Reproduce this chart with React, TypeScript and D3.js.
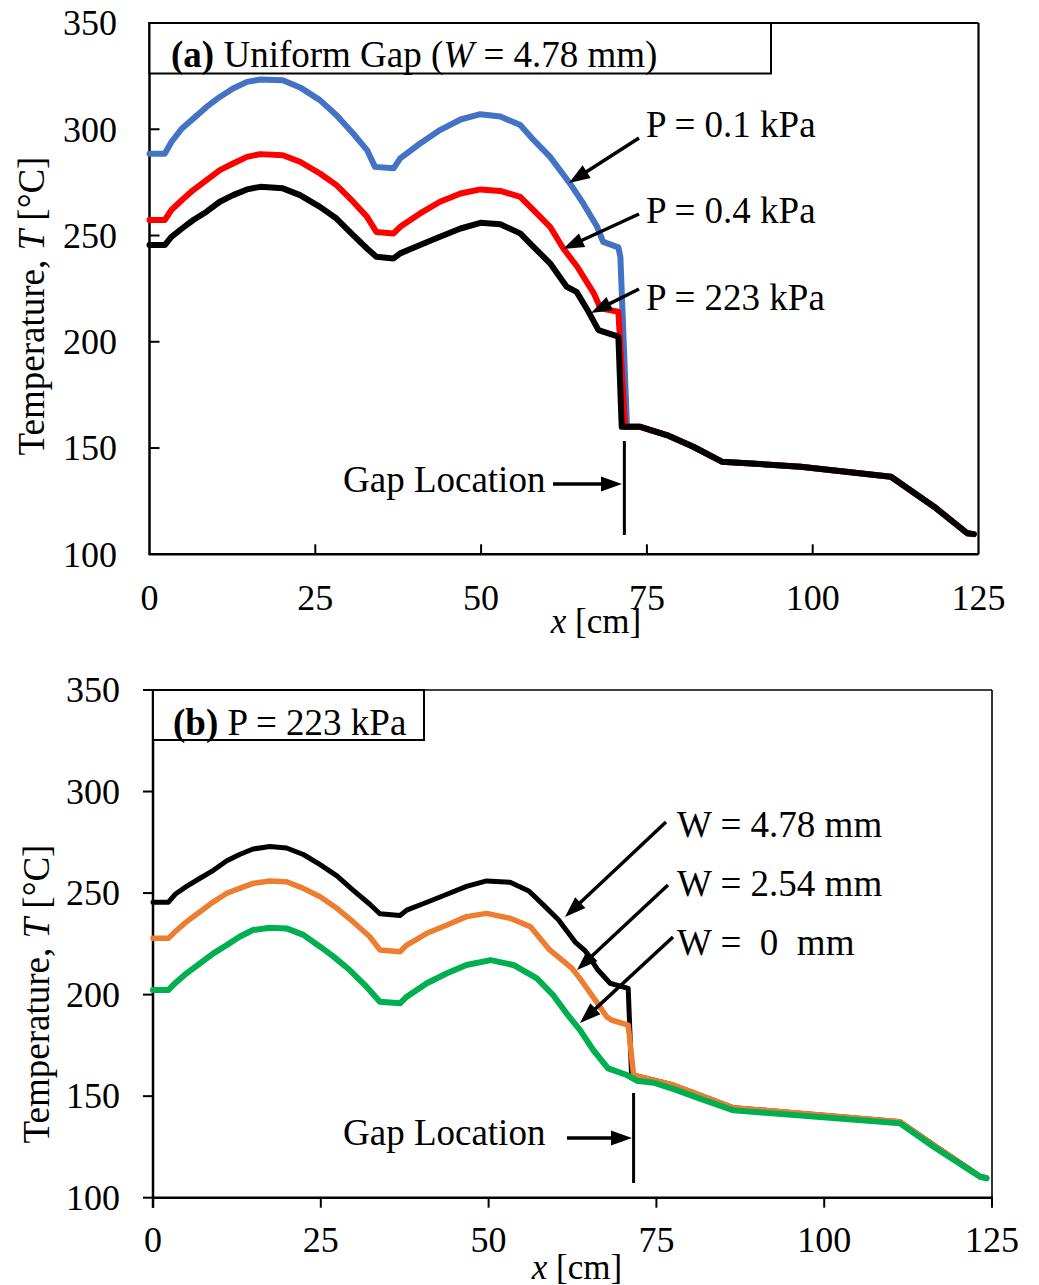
import React from "react";
import * as d3 from "d3";

// ---------- DATA (x in cm, T in °C) ----------
const xTicks = [0, 25, 50, 75, 100, 125];
const yTicks = [100, 150, 200, 250, 300, 350];

// Panel (a): uniform gap W = 4.78 mm, pressures
const blueP01: [number, number][] = [
  [0, 288.5], [2.3, 288.5], [3.3, 294], [4.9, 300.4], [6.6, 305], [8.6, 310.5], [10.6, 315.2],
  [12.6, 319.2], [14.7, 322.3], [16.7, 323.4], [20.1, 323.1], [22.7, 319.7], [25.7, 313.7],
  [28.2, 306.6], [30.7, 298], [32.8, 290.2], [34, 282.3], [36.8, 281.6], [37.8, 286.3],
  [40.8, 293.3], [43.8, 299.6], [46.9, 304.6], [49.9, 307.1], [52.9, 306], [55.9, 302],
  [57.9, 295], [60.4, 287], [63.4, 274.5], [65.4, 265.1], [67.5, 254.1], [68.4, 247],
  [70.7, 244.4], [71.0, 240], [72, 160], [74, 160], [78, 156.1], [82, 150.6], [86.3, 143.6],
  [98.2, 141.2], [111.8, 136.5], [118.3, 122.4], [123.3, 109.9], [124.3, 109.5],
];

const redP04: [number, number][] = [
  [0, 257.3], [2.3, 257.3], [3.3, 262], [4.9, 266.7], [6.6, 271.4], [8.6, 276.1], [10.6, 280.8],
  [12.6, 283.9], [14.7, 287], [16.7, 288.3], [20.1, 287.8], [22.7, 284.7], [25.7, 279.2],
  [28.2, 273.7], [30.7, 265.9], [32.8, 258.8], [34.2, 251.7], [36.8, 251], [37.8, 254.1],
  [40.8, 260.4], [43.8, 265.9], [46.9, 269.8], [49.9, 271.7], [52.9, 271], [55.9, 268.2],
  [57.9, 262], [60.4, 254.1], [62.4, 243.9], [64.5, 235.3], [67, 222.8], [68, 215.7],
  [70.7, 214.1], [71.7, 160], [74, 160], [78, 156.1], [82, 150.6], [86.3, 143.6],
  [98.2, 141.2], [111.8, 136.5], [118.3, 122.4], [123.3, 109.9], [124.3, 109.5],
];

const blackP223: [number, number][] = [
  [0, 245.5], [2.3, 245.5], [3.3, 249.4], [4.9, 253.3], [6.6, 257.3], [8.6, 261.2], [10.6, 265.9],
  [12.6, 269], [14.7, 271.7], [16.7, 272.9], [20.1, 272.2], [22.7, 269], [25.7, 263.5],
  [28.2, 258], [30.7, 250.2], [32.8, 243.9], [34.2, 240], [36.8, 239.2], [37.8, 241.6],
  [40.8, 245.5], [43.8, 249.4], [46.9, 253.3], [49.9, 256], [52.9, 255.3], [55.9, 251],
  [57.9, 244.7], [60.4, 236.9], [62.9, 225.9], [64.4, 223.5], [66.2, 214.1], [67.7, 205.5],
  [70.7, 202.4], [71.2, 160], [72, 160], [74, 160], [78, 156.1], [82, 150.6], [86.3, 143.6],
  [98.2, 141.2], [111.8, 136.5], [118.3, 122.4], [123.3, 109.9], [124.3, 109.5],
];

// Panel (b): P = 223 kPa, gap widths
const blackW478: [number, number][] = [
  [0, 245.5], [2.3, 245.5], [3.3, 249.4], [5, 253.3], [7, 257.3], [9, 261.2], [11, 265.9],
  [12.9, 269], [14.9, 271.7], [17.4, 272.9], [19.9, 272.2], [22.4, 269], [24.9, 264],
  [27.4, 258.5], [29.8, 251.5], [32.3, 244.5], [33.8, 239.8], [36.8, 239], [37.8, 241.6],
  [40.8, 245.5], [43.8, 249.4], [46.7, 253.3], [49.7, 256], [53.2, 255.3], [56, 251],
  [58, 244.7], [60.4, 236.9], [62.9, 225.9], [64.4, 221.5], [66.2, 212.5], [68.1, 205.6],
  [70.8, 203.1], [71.3, 160.4], [73, 159.2], [77.5, 155.5], [81.5, 150.5], [86.5, 144.3],
  [111.3, 137.4], [116.3, 126], [123.2, 110.6], [124.2, 109.8],
];

const orangeW254: [number, number][] = [
  [0, 227.7], [2.3, 227.7], [3.3, 231], [5, 235.9], [7, 240.8], [9, 245.7], [11, 249.9],
  [12.9, 252.3], [14.9, 254.8], [17.4, 255.9], [19.9, 255.6], [22.4, 252.3], [24.9, 248.2],
  [27.4, 242.5], [29.8, 235.9], [32.3, 228.5], [33.8, 222], [36.8, 221.1], [37.8, 224.4],
  [40.8, 230.2], [43.8, 234.3], [46.7, 238.4], [49.7, 240], [53.2, 237.6], [56.2, 233.5],
  [59.1, 222], [62.4, 213], [63.6, 208], [65.9, 197.3], [67.6, 189.1], [68.3, 187.5],
  [70.8, 185], [71.6, 160.4], [73, 159.2], [77.5, 155.5], [81.5, 150.5], [86.5, 144.3],
  [111.3, 137.4], [116.3, 126], [123.2, 110.6], [124.2, 109.8],
];

const greenW0: [number, number][] = [
  [0, 202.3], [2.3, 202.3], [3.3, 205.6], [5, 210.5], [7, 215.4], [9, 220.3], [11, 224.4],
  [12.9, 228.5], [14.9, 231.8], [17.4, 232.9], [19.9, 232.6], [22.4, 229.4], [24.9, 223.6],
  [26.9, 218.7], [29.3, 212.1], [31.8, 203.9], [33.8, 196.5], [36.8, 195.7], [37.8, 199],
  [40.8, 205.6], [43.8, 210.5], [46.7, 214.6], [50.3, 217], [53.7, 214.6], [57.2, 208],
  [59.6, 199.8], [61.6, 190.8], [63.6, 182.6], [65.6, 172.7], [67.8, 163.7], [70.6, 160.4],
  [72.1, 157.6], [74.6, 156.6], [77.5, 153.6], [81.5, 148.8], [86.5, 143], [111.3, 136.6],
  [116.3, 125.1], [123.2, 110.3], [124.2, 109.5],
];

const gapLocation = 71.6;

// ---------- STYLE / LAYOUT ----------
const FONT = "'Liberation Serif', 'Times New Roman', Times, serif";
const ANN = 37;

type Series = { data: [number, number][]; color: string; width: number };

type Arrow = { x1: number; y1: number; x2: number; y2: number };

function arrowHead(a: Arrow, len = 21, half = 7.5) {
  const dx = a.x2 - a.x1, dy = a.y2 - a.y1;
  const L = Math.hypot(dx, dy);
  const ux = dx / L, uy = dy / L;
  const bx = a.x2 - ux * len, by = a.y2 - uy * len;
  const px = -uy, py = ux;
  return `M${a.x2},${a.y2}L${bx + px * half},${by + py * half}L${bx - px * half},${by - py * half}Z`;
}

function ArrowMark({ a }: { a: Arrow }) {
  const dx = a.x2 - a.x1, dy = a.y2 - a.y1;
  const L = Math.hypot(dx, dy);
  const ex = a.x2 - (dx / L) * 12, ey = a.y2 - (dy / L) * 12;
  return (
    <g>
      <line x1={a.x1} y1={a.y1} x2={ex} y2={ey} stroke="#000" strokeWidth={3.5} />
      <path d={arrowHead(a)} fill="#000" />
    </g>
  );
}

type PanelProps = {
  xRange: [number, number];
  yRange: [number, number];
  series: Series[];
  ticksInside: boolean;
  frameWidth: number;
  yLabelRight: number;
  xLabelBaseline: number;
  yTitleX: number;
  yTitleY: number;
  xTitleX: number;
  xTitleY: number;
  gapLine: [number, number];
  children?: React.ReactNode;
};

function Panel(p: PanelProps) {
  const x = d3.scaleLinear().domain([0, 125]).range(p.xRange);
  const y = d3.scaleLinear().domain([100, 350]).range(p.yRange);
  const line = d3
    .line<[number, number]>()
    .x((d) => x(d[0]))
    .y((d) => y(d[1]));
  const [x0, x1] = p.xRange;
  const [yb, yt] = p.yRange;
  const tl = 10;
  return (
    <g>
      {/* frame */}
      <line x1={x0} y1={yt} x2={x1} y2={yt} stroke="#000" strokeWidth={p.frameWidth} />
      <line x1={x1} y1={yt} x2={x1} y2={yb} stroke="#000" strokeWidth={p.frameWidth} />
      <line x1={x0} y1={yb} x2={x1 + (p.ticksInside ? 0 : 1)} y2={yb} stroke="#000" strokeWidth={2.5} />
      <line x1={x0} y1={yt - 1} x2={x0} y2={yb + (p.ticksInside ? 1 : tl)} stroke="#000" strokeWidth={2.5} />
      {/* y ticks */}
      {yTicks.map((t) => (
        <g key={"y" + t}>
          {(p.ticksInside ? t > 100 && t < 350 : true) && (
            <line
              x1={p.ticksInside ? x0 : x0 - tl}
              x2={p.ticksInside ? x0 + tl : x0}
              y1={y(t)}
              y2={y(t)}
              stroke="#000"
              strokeWidth={2}
            />
          )}
          <text
            x={p.yLabelRight}
            y={y(t)}
            dy="0.34em"
            textAnchor="end"
            fontFamily={FONT}
            fontSize={36}
            fill="#000"
          >
            {t}
          </text>
        </g>
      ))}
      {/* x ticks */}
      {xTicks.map((t) => (
        <g key={"x" + t}>
          {(p.ticksInside ? t > 0 && t < 125 : true) && (
            <line
              x1={x(t)}
              x2={x(t)}
              y1={p.ticksInside ? yb - tl : yb}
              y2={p.ticksInside ? yb : yb + tl}
              stroke="#000"
              strokeWidth={2}
            />
          )}
          <text x={x(t)} y={p.xLabelBaseline} textAnchor="middle" fontFamily={FONT} fontSize={36} fill="#000">
            {t}
          </text>
        </g>
      ))}
      {/* series */}
      {p.series.map((s, i) => (
        <path
          key={i}
          d={line(s.data) || ""}
          fill="none"
          stroke={s.color}
          strokeWidth={s.width}
          strokeLinejoin="round"
          strokeLinecap="round"
        />
      ))}
      {/* gap location line */}
      <line
        x1={x(gapLocation)}
        x2={x(gapLocation)}
        y1={p.gapLine[0]}
        y2={p.gapLine[1]}
        stroke="#000"
        strokeWidth={3}
      />
      {/* axis titles */}
      <text
        transform={`translate(${p.yTitleX},${p.yTitleY}) rotate(-90)`}
        textAnchor="middle"
        fontFamily={FONT}
        fontSize={37}
        fill="#000"
      >
        Temperature, <tspan fontStyle="italic">T</tspan> [°C]
      </text>
      <text x={p.xTitleX} y={p.xTitleY} textAnchor="middle" fontFamily={FONT} fontSize={35} fill="#000">
        <tspan fontStyle="italic">x</tspan> [cm]
      </text>
      {p.children}
    </g>
  );
}

export default function App() {
  return (
    <svg
      width={1039}
      height={1285}
      style={{ position: "absolute", left: 0, top: 0, background: "#fff" }}
    >
      <rect width={1039} height={1285} fill="#fff" />
      {/* Panel (a) */}
      <Panel
        xRange={[149.5, 978.5]}
        yRange={[554.3, 23]}
        series={[
          { data: blueP01, color: "#4472C4", width: 6 },
          { data: redP04, color: "#FF0000", width: 6 },
          { data: blackP223, color: "#000000", width: 6 },
        ]}
        ticksInside={true}
        frameWidth={2.2}
        yLabelRight={117}
        xLabelBaseline={610}
        yTitleX={44}
        yTitleY={306}
        xTitleX={596}
        xTitleY={633}
        gapLine={[441, 535]}
      >
        <rect x={149.5} y={23} width={621.5} height={50.5} fill="#fff" stroke="#000" strokeWidth={2} />
        <text x={171} y={67} fontFamily={FONT} fontSize={ANN} fill="#000">
          <tspan fontWeight="bold">(a)</tspan> Uniform Gap (<tspan fontStyle="italic">W</tspan> = 4.78 mm)
        </text>
        <text x={646} y={137} fontFamily={FONT} fontSize={ANN} fill="#000">P = 0.1 kPa</text>
        <text x={646} y={223} fontFamily={FONT} fontSize={ANN} fill="#000">P = 0.4 kPa</text>
        <text x={646} y={310} fontFamily={FONT} fontSize={ANN} fill="#000">P = 223 kPa</text>
        <text x={343} y={492} fontFamily={FONT} fontSize={ANN} fill="#000">Gap Location</text>
        <ArrowMark a={{ x1: 639, y1: 138, x2: 569, y2: 183 }} />
        <ArrowMark a={{ x1: 639, y1: 214, x2: 563, y2: 249 }} />
        <ArrowMark a={{ x1: 639, y1: 289, x2: 591, y2: 313 }} />
        <ArrowMark a={{ x1: 553, y1: 484, x2: 622, y2: 484 }} />
      </Panel>

      {/* Panel (b) */}
      <Panel
        xRange={[153, 992]}
        yRange={[1197.7, 690]}
        series={[
          { data: blackW478, color: "#000000", width: 5 },
          { data: orangeW254, color: "#ED7D31", width: 5.5 },
          { data: greenW0, color: "#00B050", width: 6 },
        ]}
        ticksInside={false}
        frameWidth={1.6}
        yLabelRight={120}
        xLabelBaseline={1252}
        yTitleX={49}
        yTitleY={994}
        xTitleX={577}
        xTitleY={1279}
        gapLine={[1093, 1183]}
      >
        <rect x={153} y={690} width={271} height={50} fill="#fff" stroke="#000" strokeWidth={2} />
        <text x={173} y={735} fontFamily={FONT} fontSize={ANN} fill="#000">
          <tspan fontWeight="bold">(b)</tspan> P = 223 kPa
        </text>
        <text x={677} y={837} fontFamily={FONT} fontSize={ANN} fill="#000">W = 4.78 mm</text>
        <text x={677} y={896} fontFamily={FONT} fontSize={ANN} fill="#000">W = 2.54 mm</text>
        <text x={677} y={955} fontFamily={FONT} fontSize={ANN} fill="#000" style={{ whiteSpace: "pre" }}>
          {"W =  0  mm"}
        </text>
        <text x={343} y={1145} fontFamily={FONT} fontSize={ANN} fill="#000">Gap Location</text>
        <ArrowMark a={{ x1: 666, y1: 822, x2: 565, y2: 917 }} />
        <ArrowMark a={{ x1: 668, y1: 885, x2: 577, y2: 970 }} />
        <ArrowMark a={{ x1: 673, y1: 937, x2: 580, y2: 1023 }} />
        <ArrowMark a={{ x1: 567, y1: 1138, x2: 632, y2: 1138 }} />
      </Panel>
    </svg>
  );
}
